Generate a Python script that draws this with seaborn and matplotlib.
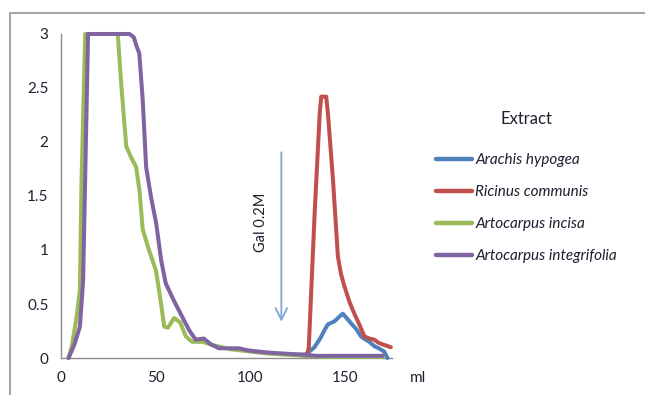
import matplotlib
matplotlib.use("Agg")
import matplotlib.pyplot as plt
from matplotlib.patches import Rectangle
import numpy as np
import pandas as pd
import seaborn as sns

# Elution profiles (absorbance vs eluted volume, ml)
species = ["Arachis hypogea", "Ricinus communis", "Artocarpus incisa", "Artocarpus integrifolia"]
colors = ["#4F81BD", "#C0504D", "#9BBB59", "#8064A2"]

arachis_ml = [125, 129, 132, 134, 137, 139.4, 141, 144.6, 147, 149, 151, 153.4, 156, 158.6,
              161, 163, 165.6, 168, 170.8, 172.6]
arachis_abs = [0.03, 0.03, 0.07, 0.10, 0.18, 0.26, 0.31, 0.34, 0.38, 0.41, 0.37, 0.32, 0.27, 0.20,
               0.17, 0.15, 0.11, 0.09, 0.06, 0.0]

ricinus_ml = [128, 130, 131, 134.1, 136.8, 137.6, 140.2, 141.1, 143.8, 146.4, 148, 149.9, 152.5,
              155.1, 158, 160.4, 163, 165.6, 168, 171, 174.4]
ricinus_abs = [0.02, 0.02, 0.10, 1.34, 2.27, 2.42, 2.42, 2.27, 1.65, 0.94, 0.78, 0.66, 0.52,
               0.41, 0.30, 0.20, 0.18, 0.17, 0.14, 0.12, 0.10]

incisa_ml = [4, 5.6, 8, 10, 10.8, 12.8, 20, 25, 30, 32, 34.5, 37, 39.7, 41.5, 43.2, 46.5, 50.2,
             52.5, 54.6, 56.5, 59.8, 63, 66, 69.3, 75, 80, 90, 100, 110, 120, 130, 140, 150,
             160, 170]
incisa_abs = [0, 0.10, 0.35, 0.63, 1.6, 3, 3, 3, 3, 2.5, 1.96, 1.86, 1.77, 1.55, 1.19, 1.0, 0.81,
              0.55, 0.29, 0.28, 0.37, 0.33, 0.20, 0.15, 0.15, 0.12, 0.08, 0.06, 0.04, 0.03, 0.02,
              0.01, 0.01, 0.01, 0.01]

integrifolia_ml = [4, 7, 10, 11.7, 14.3, 20, 25, 30, 36.2, 38.5, 39.7, 41.4, 43.2, 45, 47.6,
                   50.3, 53, 55.4, 60, 65, 68, 71.2, 75.5, 79, 83.4, 88, 94, 99, 104.4, 110,
                   118.4, 124, 129, 135, 145, 155, 165, 170]
integrifolia_abs = [0, 0.12, 0.29, 0.72, 3, 3, 3, 3, 3, 2.97, 2.9, 2.82, 2.39, 1.77, 1.49,
                    1.25, 0.9, 0.69, 0.52, 0.35, 0.25, 0.17, 0.18, 0.13, 0.09, 0.09, 0.09, 0.07,
                    0.06, 0.05, 0.04, 0.035, 0.03, 0.02, 0.02, 0.02, 0.02, 0.02]

x_ticks = [0, 50, 100, 150]
y_ticks = [0, 0.5, 1, 1.5, 2, 2.5, 3]
y_tick_labels = ["0", "0.5", "1", "1.5", "2", "2.5", "3"]

frames = []
for name, xs, ys in zip(species,
                        [arachis_ml, ricinus_ml, incisa_ml, integrifolia_ml],
                        [arachis_abs, ricinus_abs, incisa_abs, integrifolia_abs]):
    frames.append(pd.DataFrame({"ml": xs, "abs": ys, "Extract": name}))
df = pd.concat(frames, ignore_index=True)

sns.set_theme(style="white")
plt.rcParams["font.family"] = ["Lato", "DejaVu Sans"]

fig = plt.figure(figsize=(6.45, 3.95), dpi=100)
ax = fig.add_axes([61 / 645, 1 - 358 / 395, (392 - 61) / 645, (358 - 34) / 395])

sns.lineplot(data=df, x="ml", y="abs", hue="Extract", hue_order=species,
             palette=dict(zip(species, colors)), estimator=None, sort=False,
             linewidth=2.9, ax=ax)
for ln in ax.get_lines():
    ln.set_clip_on(False)
    ln.set_solid_joinstyle("round")
    ln.set_solid_capstyle("round")

ax.set_xlim(0, 175)
ax.set_ylim(0, 3)
ax.set_xticks(x_ticks)
ax.set_xticklabels([str(t) for t in x_ticks])
ax.set_yticks(y_ticks)
ax.set_yticklabels(y_tick_labels)
ax.set_xlabel("")
ax.set_ylabel("")

for side in ["top", "right"]:
    ax.spines[side].set_visible(False)
for side in ["left", "bottom"]:
    ax.spines[side].set_color("#8C8C8C")
    ax.spines[side].set_linewidth(1.0)
    ax.spines[side].set_zorder(0.5)
ax.tick_params(axis="both", which="major", direction="out", length=5, width=1.0,
               color="#8C8C8C", labelsize=11, labelcolor="#1F1F2F", pad=4)

# Galactose elution marker
ax.annotate("", xy=(116.5, 0.31), xytext=(116.5, 1.93),
            arrowprops=dict(arrowstyle="->,head_length=0.7,head_width=0.35",
                            color="#7FA6D6", lw=1.3))
ax.text(105.5, 1.26, "Gal 0.2M", rotation=90, ha="center", va="center",
        fontsize=10.5, color="#1F1F2F")

fig.text(418 / 645, 1 - 378 / 395, "ml", ha="center", va="center",
         fontsize=11, color="#1F1F2F")

leg = ax.legend(title="Extract", loc="upper left", bbox_to_anchor=(422 / 645, 1 - 97 / 395),
                bbox_transform=fig.transFigure, frameon=False, handlelength=2.4,
                handletextpad=0.2, labelspacing=1.18,
                prop={"style": "italic", "size": 11})
leg.get_title().set_fontsize(12)
leg.get_title().set_color("#1F1F2F")
leg._legend_box.sep = 19
for t in leg.get_texts():
    t.set_color("#1F1F2F")
for ln in leg.get_lines():
    ln.set_linewidth(3.2)

# Outer chart frame
fig.patches.append(Rectangle((9.5 / 645, -0.1), 1.2, 1 - 13.5 / 395 + 0.1,
                             transform=fig.transFigure, fill=False,
                             edgecolor="#A6A6A6", linewidth=1.5))

fig.savefig("out.png", dpi=100)
